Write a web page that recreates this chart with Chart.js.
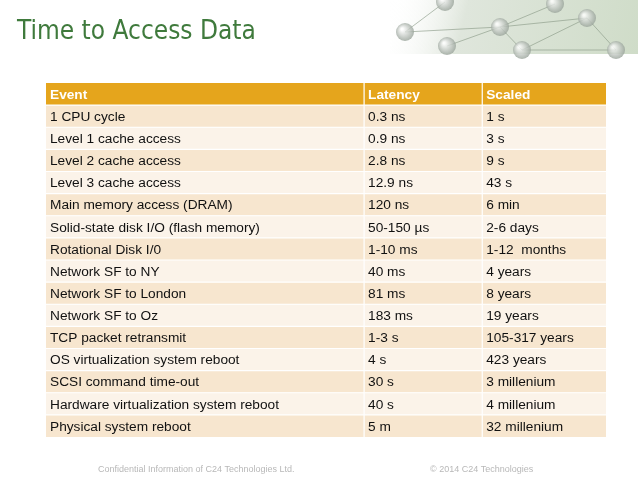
<!DOCTYPE html>
<html><head><meta charset="utf-8">
<script src="https://cdn.jsdelivr.net/npm/chart.js@4"></script>
<style>html,body{margin:0;padding:0;background:#fff;overflow:hidden}</style>
</head><body>
<canvas id="c" width="638" height="479"></canvas>
<script>
const headers = ["Event", "Latency", "Scaled"];
const events = ["1 CPU cycle","Level 1 cache access","Level 2 cache access","Level 3 cache access","Main memory access (DRAM)","Solid-state disk I/O (flash memory)","Rotational Disk I/0","Network SF to NY","Network SF to London","Network SF to Oz","TCP packet retransmit","OS virtualization system reboot","SCSI command time-out","Hardware virtualization system reboot","Physical system reboot"];
const latency = ["0.3 ns","0.9 ns","2.8 ns","12.9 ns","120 ns","50-150 µs","1-10 ms","40 ms","81 ms","183 ms","1-3 s","4 s","30 s","40 s","5 m"];
const scaled = ["1 s","3 s","9 s","43 s","6 min","2-6 days","1-12  months","4 years","8 years","19 years","105-317 years","423 years","3 millenium","4 millenium","32 millenium"];
const colEdges = [0, 0.568, 0.779, 1];

const rows = [headers[0], ...events];
const tablePlugin = {
  id: 'table',
  beforeDraw(chart) {
    const ctx = chart.ctx;
    ctx.save();
    const g = ctx.createLinearGradient(390, 0, 638, 60);
    g.addColorStop(0, 'rgba(255,255,255,0)'); g.addColorStop(0.3, '#dfe6dc'); g.addColorStop(1, '#cfdcc8');
    ctx.fillStyle = g; ctx.fillRect(390, 0, 248, 54);
    ctx.globalAlpha = 0.8;
    const nodes = [[405,32],[447,46],[500,27],[522,50],[587,18],[616,50],[555,4],[445,2]];
    ctx.strokeStyle = '#8a9a88'; ctx.lineWidth = 0.8;
    [[0,2],[2,4],[2,3],[3,4],[4,5],[1,2],[2,6],[0,7],[3,5]].forEach(([a,b])=>{ctx.beginPath();ctx.moveTo(...nodes[a]);ctx.lineTo(...nodes[b]);ctx.stroke();});
    nodes.forEach(([x,y])=>{const rg=ctx.createRadialGradient(x-3,y-3,1,x,y,10);rg.addColorStop(0,'#fff');rg.addColorStop(1,'#8f9a90');ctx.fillStyle=rg;ctx.beginPath();ctx.arc(x,y,9,0,Math.PI*2);ctx.fill();});
    ctx.globalAlpha = 1;
    ctx.fillStyle = '#3f7a3c'; ctx.font = '26px "DejaVu Sans Condensed","Liberation Sans Narrow",sans-serif';
    ctx.textBaseline = 'alphabetic'; ctx.fillText('Time to Access Data', 17, 39);
    ctx.fillStyle = '#b8b8b8'; ctx.font = '9px "Liberation Sans",Arial,sans-serif';
    ctx.fillText('Confidential Information of C24 Technologies Ltd.', 98, 472);
    ctx.fillText('© 2014 C24 Technologies', 430, 472);
    ctx.restore();
  },
  afterDraw(chart) {
    const ctx = chart.ctx, xs = chart.scales.x, ys = chart.scales.y;
    const band = Math.abs(ys.getPixelForValue(1) - ys.getPixelForValue(0));
    ctx.save();
    ctx.textBaseline = 'middle';
    rows.forEach((r, i) => {
      const cy = ys.getPixelForValue(i), top = cy - band/2;
      const cells = i === 0 ? headers : [events[i-1], latency[i-1], scaled[i-1]];
      for (let c = 0; c < 3; c++) {
        const x0 = xs.getPixelForValue(colEdges[c]), x1 = xs.getPixelForValue(colEdges[c+1]);
        ctx.fillStyle = i === 0 ? '#e5a51c' : (i % 2 ? '#f7e6cf' : '#fbf3e9');
        ctx.fillRect(x0, top, x1 - x0, band);
        ctx.fillStyle = i === 0 ? '#ffffff' : '#111111';
        ctx.font = (i === 0 ? 'bold ' : '') + '13.7px "Liberation Sans",Arial,sans-serif';
        ctx.fillText(cells[c], x0 + 4, cy + 1);
      }
    });
    ctx.strokeStyle = '#ffffff'; ctx.lineWidth = 1.2;
    rows.forEach((r, i) => { if (i) { const y = ys.getPixelForValue(i) - band/2; ctx.beginPath(); ctx.moveTo(xs.left, y); ctx.lineTo(xs.right, y); ctx.stroke(); } });
    [1,2].forEach(c => { const x = xs.getPixelForValue(colEdges[c]); ctx.beginPath(); ctx.moveTo(x, ys.top); ctx.lineTo(x, ys.bottom); ctx.stroke(); });
    ctx.restore();
  }
};

new Chart(document.getElementById('c'), {
  type: 'bar',
  data: { labels: rows, datasets: [{ data: rows.map(() => null) }] },
  options: {
    indexAxis: 'y', responsive: false, animation: false,
    layout: { padding: { left: 46, right: 32, top: 83, bottom: 42 } },
    plugins: { legend: { display: false }, tooltip: { enabled: false } },
    scales: {
      x: { type: 'linear', min: 0, max: 1, display: false },
      y: { type: 'category', display: false, offset: true }
    }
  },
  plugins: [tablePlugin]
});
</script>
</body></html>
